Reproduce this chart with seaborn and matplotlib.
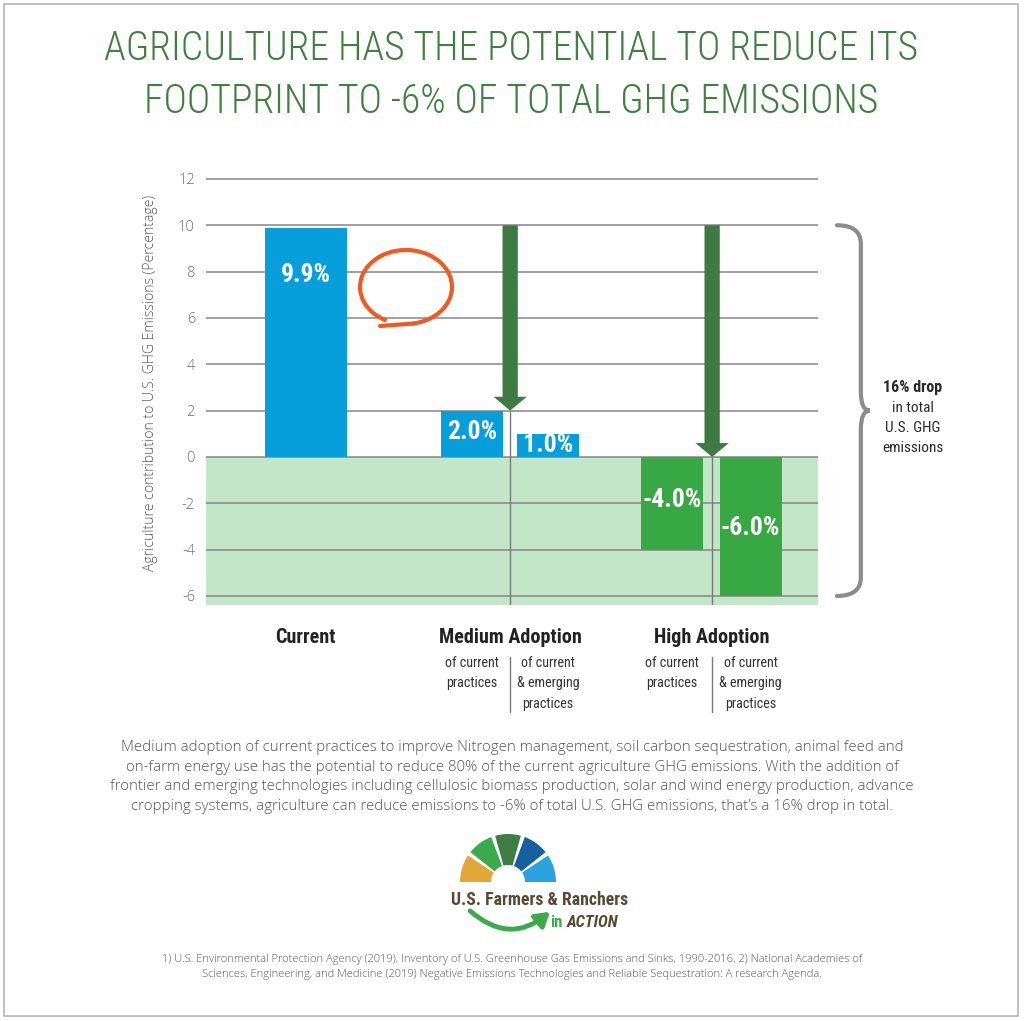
import matplotlib
matplotlib.use("Agg")
import matplotlib.pyplot as plt
import matplotlib.transforms as mtransforms
import seaborn as sns
import pandas as pd
from matplotlib import font_manager
from matplotlib.patches import Wedge, Arc, Rectangle, PathPatch, FancyArrowPatch
from matplotlib.path import Path

# ---------------- data ----------------
title_lines = ["AGRICULTURE HAS THE POTENTIAL TO REDUCE ITS",
               "FOOTPRINT TO -6% OF TOTAL GHG EMISSIONS"]
scenarios = ["Current", "Medium Adoption", "High Adoption"]
bar_scenario = ["Current", "Medium Adoption", "Medium Adoption",
                "High Adoption", "High Adoption"]
bar_practices = [[],
                 ["of current", "practices"],
                 ["of current", "& emerging", "practices"],
                 ["of current", "practices"],
                 ["of current", "& emerging", "practices"]]
values = [9.9, 2.0, 1.0, -4.0, -6.0]
value_labels = ["9.9%", "2.0%", "1.0%", "-4.0%", "-6.0%"]
arrow_start = 10.0
arrow_ends = [2.0, 0.0]          # medium, high adoption
y_ticks = [-6, -4, -2, 0, 2, 4, 6, 8, 10, 12]
y_label = "Agriculture contribution to U.S. GHG Emissions (Percentage)"
drop_lines = ["16% drop", "in total", "U.S. GHG", "emissions"]
body_lines = [
    "Medium adoption of current practices to improve Nitrogen management, soil carbon sequestration, animal feed and",
    "on-farm energy use has the potential to reduce 80% of the current agriculture GHG emissions. With the addition of",
    "frontier and emerging technologies including cellulosic biomass production, solar and wind energy production, advance",
    "cropping systems, agriculture can reduce emissions to -6% of total U.S. GHG emissions, that\u2019s a 16% drop in total.",
]
footnote_lines = [
    "1) U.S. Environmental Protection Agency (2019), Inventory of U.S. Greenhouse Gas Emissions and Sinks, 1990-2016. 2) National Academies of",
    "Sciences, Engineering, and Medicine (2019) Negative Emissions Technologies and Reliable Sequestration: A research Agenda.",
]
logo_name = "U.S. Farmers & Ranchers"
logo_sub = ["in", "ACTION"]

# ---------------- layout ----------------
bar_x = [1.63, 4.35, 5.59, 7.61, 8.90]
group_x = [1.63, 4.97, 8.27]
label_y = [7.85, 1.08, 0.52, -1.86, -3.06]
y_min, y_max = -6.39, 12.04

BLUE = "#069fdb"
GREEN = "#38a844"
LIGHT_GREEN = "#c4e6c8"
DARK_GREEN = "#3e7b42"
TITLE_GREEN = "#417f40"
GRID = "#858585"
BROWN = "#574a33"

sns.set_theme(style="white")
names = {f.name for f in font_manager.fontManager.ttflist}


def pick(cands, default="DejaVu Sans"):
    for c in cands:
        if c in names:
            return c
    return default


COND = pick(["Liberation Sans Narrow", "Roboto Condensed", "DejaVu Sans Condensed"])
BODY = pick(["Open Sans", "Noto Sans", "Lato"])
plt.rcParams["font.family"] = [BODY, "DejaVu Sans"]
plt.rcParams["axes.unicode_minus"] = False
cond = dict(family=[COND, "DejaVu Sans"], fontstretch="condensed")

W, H = 1024, 1021
fig = plt.figure(figsize=(W / 100, H / 100), dpi=100)
fig.patch.set_facecolor("white")
ax = fig.add_axes([206 / W, 1 - 605 / H, 612 / W, 427 / H])

# shaded negative zone
ax.axhspan(y_min, 0, color=LIGHT_GREEN, zorder=0.2, lw=0)

df = pd.DataFrame({"x": bar_x, "value": values, "scenario": bar_scenario,
                   "sign": ["up" if v > 0 else "down" for v in values]})
palette = {"up": BLUE, "down": GREEN}
sns.barplot(data=df.iloc[:1], x="x", y="value", hue="sign", palette=palette,
            native_scale=True, width=1.34, dodge=False, legend=False,
            saturation=1, errorbar=None, orient="x", linewidth=0, ax=ax)
sns.barplot(data=df.iloc[1:], x="x", y="value", hue="sign", palette=palette,
            native_scale=True, width=0.82, dodge=False, legend=False,
            saturation=1, errorbar=None, orient="x", linewidth=0, ax=ax)

for x, ly, lab in zip(bar_x, label_y, value_labels):
    ax.text(x, ly, lab, ha="center", va="center", color="white",
            fontsize=18.5, fontweight="bold", zorder=4, **cond)

# separators under the arrows
ax.vlines(group_x[1:], arrow_ends, y_min, colors="#7a7a7a", lw=1, zorder=0.9)

# reduction arrows
for gx, end in zip(group_x[1:], arrow_ends):
    ax.annotate("", xy=(gx, end), xytext=(gx, arrow_start),
                arrowprops=dict(arrowstyle="simple,head_width=24,head_length=10,tail_width=11",
                                mutation_scale=1, color=DARK_GREEN, shrinkA=0, shrinkB=0,
                                lw=0),
                zorder=5)

ax.set_xlim(0, 10)
ax.set_ylim(y_min, y_max)
ax.set_yticks(y_ticks)
ax.set_xticks([])
ax.grid(axis="y", color=GRID, lw=1.1)
ax.grid(axis="x", visible=False)
ax.set_axisbelow(True)
ax.tick_params(axis="y", length=0, pad=8, labelsize=10.5, labelcolor="#6b6b6b")
for t in ax.get_yticklabels():
    t.set_fontweight("light")
ax.set_xlabel("")
ax.set_ylabel(y_label, fontsize=10.1, color="#5a5a5a", fontweight="light")
ax.yaxis.set_label_coords(-0.078, 0.52)
sns.despine(ax=ax, left=True, bottom=True)
ax.patch.set_alpha(0)

# category labels below
bt = mtransforms.blended_transform_factory(ax.transData, ax.transAxes)
for gx, name in zip(group_x, scenarios):
    ax.text(gx, -0.089, name, transform=bt, ha="center", va="baseline",
            fontsize=14.5, fontweight="bold", color="#222222", **cond)
for x, lines in zip(bar_x, bar_practices):
    for i, line in enumerate(lines):
        ax.text(x, -0.1452 - i * 0.048, line, transform=bt, ha="center",
                va="baseline", fontsize=10.2, color="#333333", **cond)
for gx in group_x[1:]:
    ax.plot([gx, gx], [-0.122, -0.251], transform=bt, color="#7a7a7a",
            lw=1, clip_on=False)

# brace
bb = mtransforms.blended_transform_factory(ax.transAxes, ax.transData)
x0, x1, x2 = 1.031, 1.070, 1.085
top, bot = arrow_start, min(values)
mid, r = (top + bot) / 2, 0.8
verts = [(x0, top), (x1, top), (x1, top - r), (x1, mid + r), (x1, mid), (x2, mid),
         (x1, mid), (x1, mid - r), (x1, bot + r), (x1, bot), (x0, bot)]
codes = [Path.MOVETO, Path.CURVE3, Path.CURVE3, Path.LINETO, Path.CURVE3, Path.CURVE3,
         Path.CURVE3, Path.CURVE3, Path.LINETO, Path.CURVE3, Path.CURVE3]
ax.add_patch(PathPatch(Path(verts, codes), fill=False, edgecolor="#8c8c8c", lw=3,
                       transform=bb, clip_on=False, capstyle="round"))

# ---------------- overlay in pixel coordinates ----------------
ov = fig.add_axes([0, 0, 1, 1])
ov.set_xlim(0, W)
ov.set_ylim(H, 0)
ov.axis("off")

ov.add_patch(Rectangle((4, 4), 1014, 1012, fill=False, edgecolor="#b5b5b5", lw=1.2))

for i, line in enumerate(title_lines):
    ov.text(511, 60 + i * 53, line, ha="center", va="baseline", fontsize=28.5,
            fontweight="light", color=TITLE_GREEN, **cond)

for i, line in enumerate(drop_lines):
    ov.text(913, 392 + i * 20, line, ha="center", va="baseline",
            fontsize=11.5 if i == 0 else 11, fontweight="bold" if i == 0 else "normal",
            color="#2a2a2a", **cond)

for i, line in enumerate(body_lines):
    ov.text(512, 751 + i * 19.7, line, ha="center", va="baseline", fontsize=10.85,
            fontweight="light", color="#555555")

for i, line in enumerate(footnote_lines):
    ov.text(512, 962 + i * 15, line, ha="center", va="baseline", fontsize=8.0,
            fontweight="light", color="#555555")

# hand-drawn orange circle
ov.add_patch(Arc((406, 287), 92, 74, theta1=-240, theta2=80, color="#f05a22", lw=3))
ov.plot([414, 380], [323.5, 326], color="#f05a22", lw=3, solid_capstyle="round")

# logo
seg_colors = ["#e2a73a", "#3aaa4a", "#3f7d45", "#1561a0", "#2aa2dd"]
for i, c in enumerate(seg_colors):
    a0, a1 = 180 - 36 * i, 144 - 36 * i
    t1 = -a0 + (2.5 if i > 0 else 0)
    t2 = -a1 - (2.5 if i < 4 else 0)
    ov.add_patch(Wedge((508, 882), 48, t1, t2, width=31, facecolor=c, edgecolor="none"))
ov.text(540, 905, logo_name, ha="center", va="baseline", fontsize=12.8,
        fontweight="bold", color=BROWN, **cond)
ov.text(550, 927, logo_sub[0], ha="left", va="baseline", fontsize=12,
        fontweight="bold", color="#3aaa4a", **cond)
ov.text(567, 927, logo_sub[1], ha="left", va="baseline", fontsize=12,
        fontweight="bold", fontstyle="italic", color=BROWN, **cond)
ov.add_patch(FancyArrowPatch((468, 909), (552, 910), connectionstyle="arc3,rad=0.45",
                             arrowstyle="-|>,head_width=0.5,head_length=0.8",
                             mutation_scale=10, lw=3.5, color="#3aaa4a"))

fig.savefig("out.png", dpi=100)
